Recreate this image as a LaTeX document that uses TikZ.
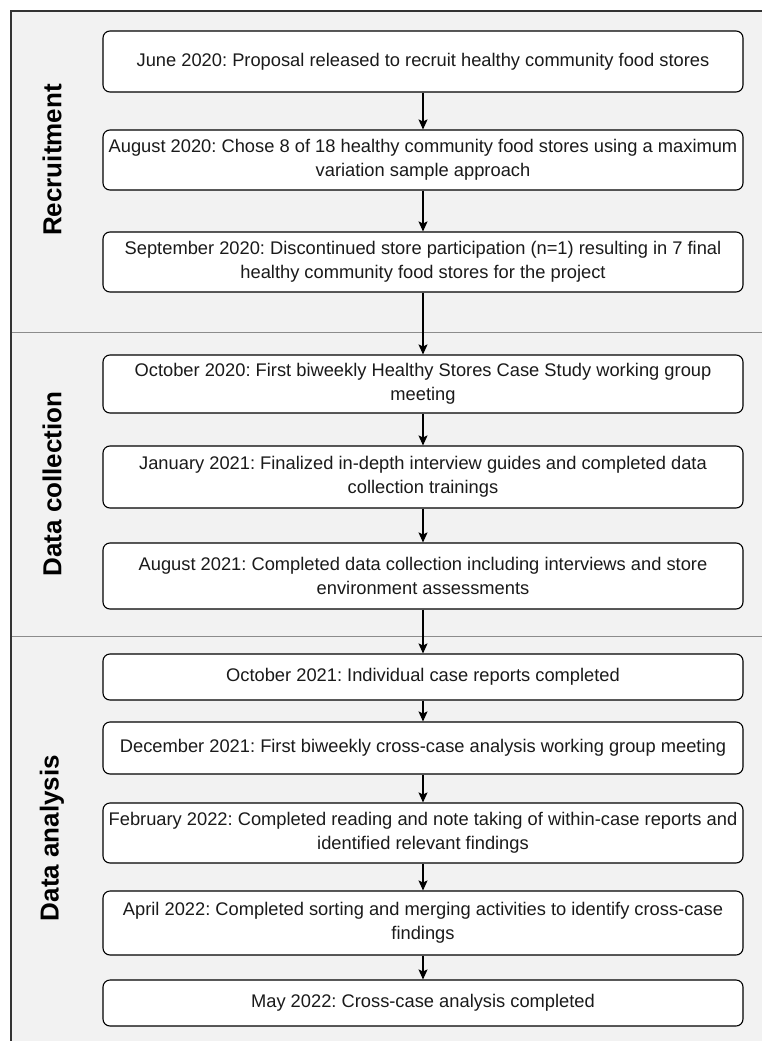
\documentclass[tikz,border=0pt]{standalone}
\usepackage{fontspec}
\setmainfont{Liberation Sans}
\usetikzlibrary{arrows.meta}
\frenchspacing
\definecolor{panelgrey}{HTML}{F2F2F2}
\definecolor{framegrey}{HTML}{333333}
\definecolor{rulegrey}{HTML}{8C8C8C}
\definecolor{inkgrey}{HTML}{1A1A1A}
\tikzset{
  stagebox/.style={draw=black, fill=white, rounded corners=7pt, line width=1.1pt,
    minimum width=640pt, align=center, inner sep=0pt,
    font=\fontsize{18.3}{24}\selectfont, text=inkgrey},
  phaselabel/.style={rotate=90, font=\fontsize{26}{30}\selectfont\bfseries},
  flow/.style={-{Stealth[length=10pt,width=9pt,inset=2pt]}, line width=1.1pt},
}
\begin{document}
\begin{tikzpicture}[x=1pt,y=-1pt]
\pgfmathsetmacro\midx{423}
\useasboundingbox (0,0) rectangle (762,1041);
\fill[white] (0,0) rectangle (762,1041);
% outer panel and phase rules
\draw[fill=panelgrey, draw=framegrey, line width=2pt] (11,11) rectangle (780,1060);
\draw[rulegrey, line width=1pt] (12,332) -- (762,332);
\draw[rulegrey, line width=1pt] (12,636) -- (762,636);
% phase names
\node[phaselabel] (recruit) at (52,160) {Recruitment};
\node[phaselabel] (collect) at (52,484) {Data collection};
\node[phaselabel] (analyse) at (52,838) {Data analysis};
% recruitment
\node[stagebox, minimum height=61pt] (jun20) at (\midx,61.5) {June 2020: Proposal released to recruit healthy community food stores};
\node[stagebox, minimum height=60pt] (aug20) at (\midx,160) {August 2020: Chose 8 of 18 healthy community food stores using a maximum\\variation sample approach};
\node[stagebox, minimum height=60pt] (sep20) at (\midx,262) {September 2020: Discontinued store participation (n=1) resulting in 7 final\\healthy community food stores for the project};
% data collection
\node[stagebox, minimum height=58pt] (oct20) at (\midx,384) {October 2020: First biweekly Healthy Stores Case Study working group\\meeting};
\node[stagebox, minimum height=62pt] (jan21) at (\midx,477) {January 2021: Finalized in-depth interview guides and completed data\\collection trainings};
\node[stagebox, minimum height=66pt] (aug21) at (\midx,576) {August 2021: Completed data collection including interviews and store\\environment assessments};
% data analysis
\node[stagebox, minimum height=46pt] (oct21) at (\midx,677) {October 2021: Individual case reports completed};
\node[stagebox, minimum height=52pt] (dec21) at (\midx,748) {December 2021: First biweekly cross-case analysis working group meeting};
\node[stagebox, minimum height=60pt] (feb22) at (\midx,833) {February 2022: Completed reading and note taking of within-case reports and\\identified relevant findings};
\node[stagebox, minimum height=64pt] (apr22) at (\midx,923) {April 2022: Completed sorting and merging activities to identify cross-case\\findings};
\node[stagebox, minimum height=46pt] (may22) at (\midx,1003) {May 2022: Cross-case analysis completed};
% connectors
\foreach \a/\b in {jun20/aug20,aug20/sep20,sep20/oct20,oct20/jan21,jan21/aug21,aug21/oct21,oct21/dec21,dec21/feb22,feb22/apr22,apr22/may22}
  \draw[flow] (\a) -- (\b);
\end{tikzpicture}
\end{document}
